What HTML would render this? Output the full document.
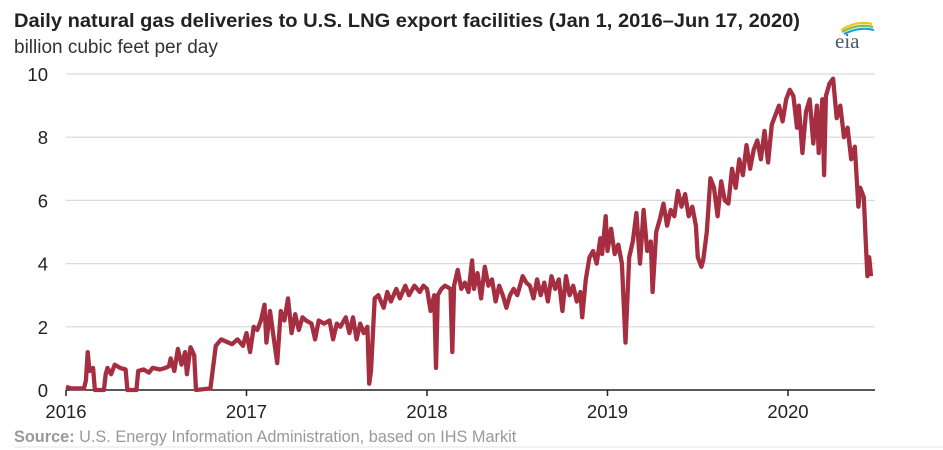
<!DOCTYPE html>
<html><head><meta charset="utf-8"><style>
body{margin:0;background:#fff;font-family:"Liberation Sans",sans-serif;}
#wrap{position:relative;width:943px;height:450px;overflow:hidden;}
</style></head><body>
<div id="wrap">
<svg id="chart" width="943" height="450">
<text x="14" y="27" font-size="19.8" font-weight="bold" fill="#222" textLength="786" lengthAdjust="spacingAndGlyphs">Daily natural gas deliveries to U.S. LNG export facilities (Jan 1, 2016–Jun 17, 2020)</text>
<text x="14" y="53" font-size="19" fill="#333">billion cubic feet per day</text>
<g>
<path d="M841 30 Q857 20 872 24" stroke="#f2c418" stroke-width="2.2" fill="none"/>
<path d="M842 32 Q858 23 873 27" stroke="#7cc043" stroke-width="2.2" fill="none"/>
<path d="M844 34 Q860 26 874 30" stroke="#1b9fd8" stroke-width="2.2" fill="none"/>
<text x="835" y="48" font-family="Liberation Serif,serif" font-size="21" fill="#4a5a6a">eia</text>
</g>
<g id="grid"></g>
<g id="axes"></g>
<path id="series" fill="none" stroke="#a52f40" stroke-width="4.3" stroke-linejoin="round"/>
<text x="14" y="442" font-size="16.3" fill="#999"><tspan font-weight="bold">Source:</tspan> U.S. Energy Information Administration, based on IHS Markit</text>
<line x1="14" y1="447" x2="943" y2="447" stroke="#e6e6e6"/>
</svg>
</div>
<script>
const yTicks=[0,2,4,6,8,10];
const xTicks=[2016,2017,2018,2019,2020];
const dates=[2016.00,2016.03,2016.10,2016.11,2016.12,2016.13,2016.15,2016.16,2016.21,2016.22,2016.23,2016.25,2016.27,2016.30,2016.33,2016.34,2016.39,2016.40,2016.43,2016.46,2016.48,2016.52,2016.55,2016.57,2016.58,2016.60,2016.62,2016.64,2016.66,2016.67,2016.69,2016.71,2016.72,2016.80,2016.83,2016.86,2016.90,2016.92,2016.95,2016.98,
2017.00,2017.02,2017.04,2017.06,2017.08,2017.10,2017.11,2017.13,2017.17,2017.19,2017.21,2017.23,2017.25,2017.27,2017.29,2017.31,2017.33,2017.36,2017.38,2017.40,2017.43,2017.46,2017.48,2017.50,2017.52,2017.55,2017.57,2017.59,2017.61,2017.63,2017.65,2017.67,2017.68,2017.69,2017.71,2017.73,2017.76,2017.78,2017.80,2017.83,2017.85,2017.88,2017.90,2017.93,2017.96,2017.98,
2018.00,2018.02,2018.04,2018.05,2018.06,2018.08,2018.10,2018.13,2018.14,2018.15,2018.17,2018.19,2018.21,2018.23,2018.25,2018.26,2018.28,2018.30,2018.32,2018.34,2018.36,2018.38,2018.40,2018.42,2018.44,2018.46,2018.48,2018.50,2018.53,2018.55,2018.57,2018.59,2018.61,2018.63,2018.65,2018.67,2018.69,2018.71,2018.73,2018.75,2018.77,2018.79,2018.81,2018.83,2018.85,2018.86,2018.88,2018.90,2018.92,2018.94,2018.96,2018.97,2018.99,
2019.00,2019.02,2019.04,2019.06,2019.08,2019.10,2019.12,2019.14,2019.16,2019.18,2019.20,2019.22,2019.24,2019.25,2019.27,2019.29,2019.31,2019.33,2019.35,2019.37,2019.39,2019.41,2019.43,2019.45,2019.47,2019.49,2019.50,2019.52,2019.53,2019.55,2019.57,2019.59,2019.61,2019.63,2019.65,2019.67,2019.69,2019.71,2019.73,2019.75,2019.77,2019.79,2019.81,2019.83,2019.85,2019.87,2019.89,2019.91,2019.93,2019.95,2019.97,2019.99,
2020.01,2020.03,2020.05,2020.06,2020.08,2020.10,2020.12,2020.14,2020.16,2020.17,2020.19,2020.20,2020.21,2020.23,2020.25,2020.27,2020.29,2020.31,2020.33,2020.35,2020.37,2020.39,2020.40,2020.42,2020.43,2020.44,2020.45,2020.46];
const values=[0.1,0.05,0.05,0.3,1.2,0.6,0.7,0.0,0.0,0.5,0.7,0.5,0.8,0.7,0.65,0.0,0.0,0.6,0.65,0.55,0.7,0.65,0.7,0.75,1.0,0.6,1.3,0.8,1.2,0.5,1.35,1.1,0.0,0.05,1.4,1.6,1.5,1.45,1.6,1.4,
1.8,1.2,2.0,1.9,2.2,2.7,1.5,2.5,0.85,2.5,2.2,2.9,1.8,2.4,1.9,2.3,2.2,2.1,1.6,2.2,2.1,2.2,1.6,2.1,2.0,2.3,1.8,2.3,1.6,2.1,1.8,2.0,0.2,0.6,2.9,3.0,2.6,3.1,2.8,3.2,2.9,3.3,3.0,3.3,3.1,3.3,
3.2,2.5,3.0,0.7,3.0,3.2,3.3,3.2,1.2,3.3,3.8,3.2,3.4,3.1,4.1,3.2,3.7,2.9,3.9,3.3,3.5,2.8,3.3,3.0,2.6,3.0,3.2,3.0,3.6,3.4,3.3,2.9,3.5,3.0,3.4,2.8,3.6,3.2,3.5,2.5,3.6,3.0,3.3,2.8,3.1,2.3,3.5,4.2,4.4,4.0,4.8,4.3,5.5,
4.4,5.1,4.3,4.6,4.0,1.5,4.2,4.7,5.6,4.0,5.7,4.4,4.7,3.1,5.0,5.4,5.9,5.2,5.7,5.5,6.3,5.8,6.2,5.5,5.8,5.2,4.2,3.9,4.1,5.0,6.7,6.4,5.5,6.6,6.0,5.9,7.0,6.4,7.3,6.8,7.75,7.0,7.6,7.9,7.3,8.2,7.2,8.4,8.7,9.0,8.5,9.2,
9.5,9.3,8.3,9.0,7.5,8.8,9.2,7.8,9.0,7.5,9.2,6.8,9.3,9.7,9.85,8.6,9.0,8.0,8.3,7.3,7.7,5.8,6.4,6.1,4.8,3.6,4.2,3.6];
const X=v=>66+(v-2016)*180.5;
const Y=v=>390-v*31.6;
const NS='http://www.w3.org/2000/svg';
const grid=document.getElementById('grid'),axes=document.getElementById('axes');
yTicks.forEach(t=>{
  if(t>0){const l=document.createElementNS(NS,'line');
  l.setAttribute('x1',66);l.setAttribute('x2',875);l.setAttribute('y1',Y(t));l.setAttribute('y2',Y(t));
  l.setAttribute('stroke','#d9d9d9');l.setAttribute('stroke-width','1.2');
  
  
  grid.appendChild(l);}
  const tx=document.createElementNS(NS,'text');
  tx.setAttribute('x',48);tx.setAttribute('y',Y(t)+7);tx.setAttribute('text-anchor','end');
  tx.setAttribute('font-size','18.5');tx.setAttribute('fill','#222');tx.textContent=t;
  
  
  axes.appendChild(tx);
});
const ax=document.createElementNS(NS,'line');
ax.setAttribute('x1',66);ax.setAttribute('x2',875);ax.setAttribute('y1',390);ax.setAttribute('y2',390);ax.setAttribute('stroke','#222');ax.setAttribute('stroke-width','1.5');


axes.appendChild(ax);
xTicks.forEach(t=>{
  const l=document.createElementNS(NS,'line');
  l.setAttribute('x1',X(t));l.setAttribute('x2',X(t));l.setAttribute('y1',390);l.setAttribute('y2',396);l.setAttribute('stroke','#222');l.setAttribute('stroke-width','1.5');
  
  
  axes.appendChild(l);
  const tx=document.createElementNS(NS,'text');
  tx.setAttribute('x',X(t));tx.setAttribute('y',418);tx.setAttribute('text-anchor','middle');
  tx.setAttribute('font-size','18.5');tx.setAttribute('fill','#222');tx.textContent=t;
  
  
  axes.appendChild(tx);
});
let d='';
dates.forEach((t,i)=>{d+=(i?'L':'M')+X(t).toFixed(1)+' '+Y(values[i]).toFixed(1);});
document.getElementById('series').setAttribute('d',d);
</script>
</body></html>
